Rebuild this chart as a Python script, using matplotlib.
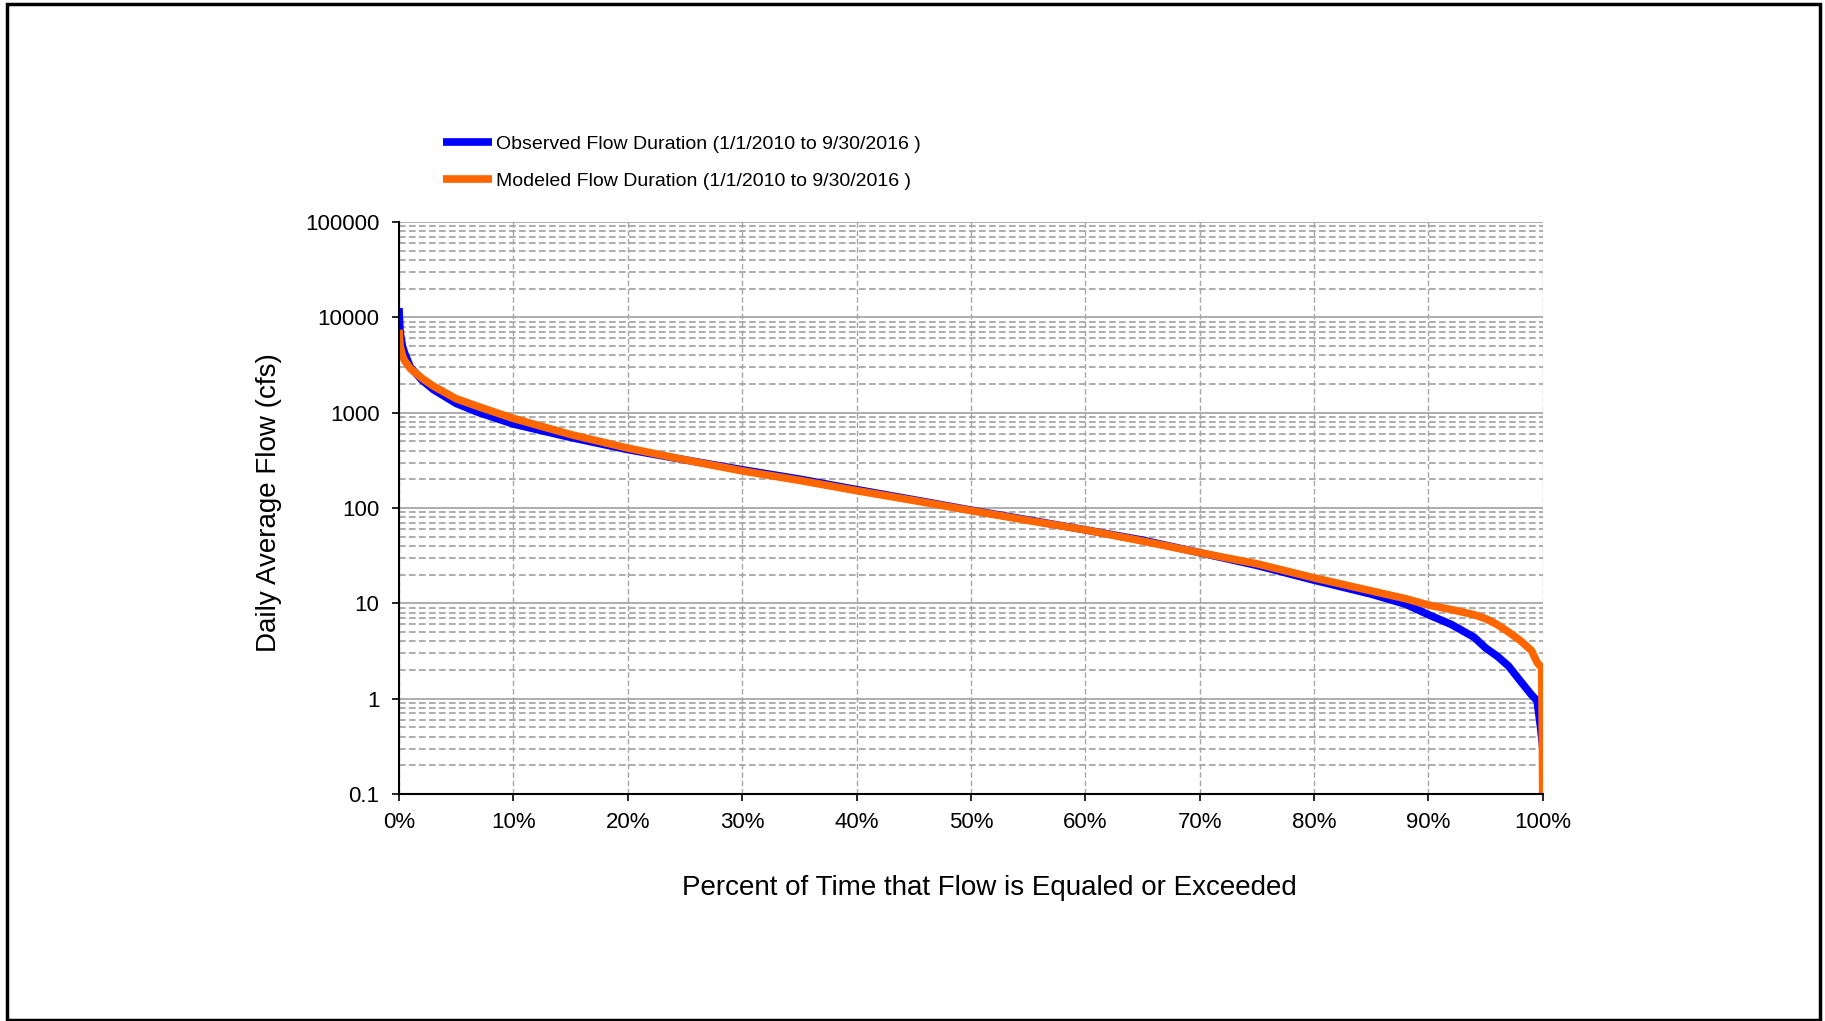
import matplotlib as mpl
import matplotlib.pyplot as plt
from matplotlib.patches import Rectangle
from matplotlib.ticker import FixedLocator, LogLocator, NullFormatter

mpl.use("Agg")
plt.rcParams["font.family"] = ["Liberation Sans", "DejaVu Sans"]

# percent of time exceeded vs daily flow (cfs)
obs_pct = [0.0, 0.1, 0.3, 0.5, 1.0, 2.0, 3.0, 5.0, 7.0, 10.0, 15.0, 20.0,
           25.0, 30.0, 35.0, 40.0, 45.0, 50.0, 55.0, 60.0, 65.0, 70.0,
           75.0, 80.0, 85.0, 88.0, 90.0, 92.0, 94.0, 95.0, 96.0, 97.0,
           98.0, 99.0, 99.5, 99.8, 100.0]
obs_flow = [12500, 7000, 5000, 4200, 3000, 2200, 1750, 1250, 1000, 760,
            550, 410, 320, 252, 201, 156, 122, 95, 75, 59, 46, 34, 25,
            17.5, 12.5, 9.8, 7.6, 6.0, 4.4, 3.4, 2.8, 2.2, 1.55, 1.1,
            0.95, 0.5, 0.3]

mod_pct = [0.0, 0.1, 0.3, 0.5, 1.0, 2.0, 3.0, 5.0, 7.0, 10.0, 15.0, 20.0,
           25.0, 30.0, 35.0, 40.0, 45.0, 50.0, 55.0, 60.0, 65.0, 70.0,
           75.0, 80.0, 85.0, 88.0, 90.0, 92.0, 94.0, 95.0, 96.0, 97.0,
           98.0, 99.0, 99.5, 99.9, 99.95, 100.0]
mod_flow = [7400, 5000, 4000, 3500, 2900, 2300, 1900, 1400, 1150, 870,
            590, 425, 320, 245, 195, 152, 120, 94, 74, 59, 45, 34, 26,
            18.5, 13.5, 11.2, 9.6, 8.6, 7.6, 6.9, 6.0, 5.0, 4.1, 3.2,
            2.4, 2.1, 0.5, 0.05]

x_ticks = [0, 10, 20, 30, 40, 50, 60, 70, 80, 90, 100]
x_labels = ["0%", "10%", "20%", "30%", "40%", "50%", "60%", "70%", "80%",
            "90%", "100%"]
y_ticks = [0.1, 1, 10, 100, 1000, 10000, 100000]
y_labels = ["0.1", "1", "10", "100", "1000", "10000", "100000"]

fig = plt.figure(figsize=(18.25, 10.21), dpi=100)
ax = fig.add_axes([0.2186, 0.2223, 0.6268, 0.5603])

ax.plot(obs_pct, obs_flow, color="#0000ff", linewidth=5.5,
        solid_capstyle="butt",
        label="Observed Flow Duration (1/1/2010 to 9/30/2016 )")
ax.plot(mod_pct, mod_flow, color="#ff6600", linewidth=5.5,
        solid_capstyle="butt",
        label="Modeled Flow Duration (1/1/2010 to 9/30/2016 )")

ax.set_yscale("log")
ax.set_xlim(0, 100)
ax.set_ylim(0.1, 100000)

ax.xaxis.set_major_locator(FixedLocator(x_ticks))
ax.set_xticklabels(x_labels)
ax.yaxis.set_major_locator(FixedLocator(y_ticks))
ax.set_yticklabels(y_labels)
ax.yaxis.set_minor_locator(LogLocator(base=10, subs=range(2, 10), numticks=20))
ax.yaxis.set_minor_formatter(NullFormatter())

ax.grid(True, which="major", axis="y", color="#a0a0a0", linestyle="-",
        linewidth=1.2)
ax.grid(True, which="minor", axis="y", color="#a0a0a0", linestyle=(0, (4, 2)),
        linewidth=1.2)
ax.grid(True, which="major", axis="x", color="#a8a8a8", linestyle=(0, (4, 2)),
        linewidth=1.0)
ax.set_axisbelow(True)

ax.tick_params(axis="both", which="major", direction="out", length=5,
               width=1.2, labelsize=16, colors="black")
ax.tick_params(axis="y", which="minor", length=0)
ax.tick_params(axis="x", pad=8)
ax.tick_params(axis="y", pad=9)

for side in ("top", "right"):
    ax.spines[side].set_visible(False)
for side in ("left", "bottom"):
    ax.spines[side].set_linewidth(1.5)
    ax.spines[side].set_color("black")

ax.set_xlabel("Percent of Time that Flow is Equaled or Exceeded",
              fontsize=20, labelpad=30)
ax.set_ylabel("Daily Average Flow (cfs)", fontsize=20, labelpad=17)
ax.xaxis.label.set_x(0.516)
ax.yaxis.label.set_y(0.51)

fig.legend(loc="upper left", bbox_to_anchor=(0.2385, 0.875), frameon=False,
           fontsize=14, handlelength=2.5, handletextpad=0.2,
           labelspacing=1.0, borderaxespad=0)

fig.patches.append(Rectangle((0.0038, 0.001), 0.9935, 0.995,
                             transform=fig.transFigure, fill=False,
                             edgecolor="black", linewidth=2.5))

plt.savefig("out.png", dpi=100)
